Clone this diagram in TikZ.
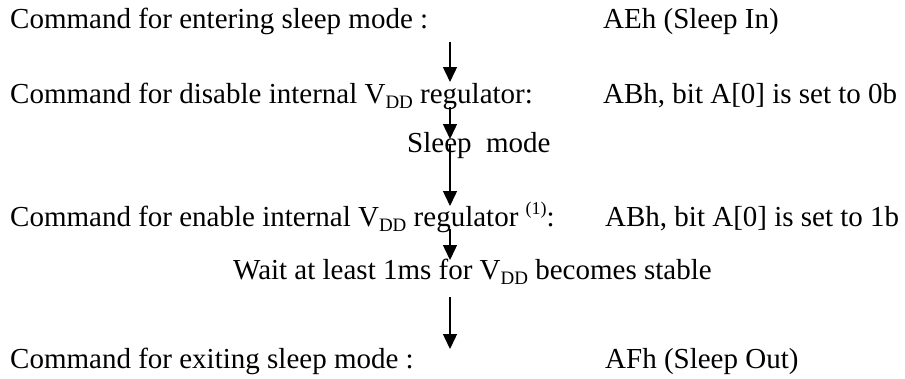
\documentclass[tikz,border=0pt]{standalone}
\usepackage{fontspec}
\setmainfont{Liberation Serif}
\usetikzlibrary{arrows.meta}
\newcommand{\vdd}{V\raisebox{-0.2em}{\fontsize{19}{19}\selectfont DD}}
\newcommand{\supnote}[1]{\raisebox{0.38em}{\fontsize{18}{18}\selectfont #1}}
\begin{document}
\begin{tikzpicture}[x=1pt,y=-1pt,
  txt/.style={anchor=base west,inner sep=0pt,font=\fontsize{29}{35}\selectfont},
  flow/.style={line width=1.4pt,-{Triangle[length=15pt,width=14pt]}}]
\useasboundingbox (0,0) rectangle (905,378);
% left column
\node[txt] (r1) at (10,28) {Command for entering sleep mode :};
\node[txt] (r2) at (10,103) {Command for disable internal \vdd{} regulator:};
\node[txt] (r3) at (407,152) {Sleep~~mode};
\node[txt] (r4) at (10,226) {Command for enable internal \vdd{} regulator \supnote{(1)}:};
\node[txt] (r5) at (233,279) {Wait at least 1ms for \vdd{} becomes stable};
\node[txt] (r6) at (10,368) {Command for exiting sleep mode :};
% right column
\node[txt] (v1) at (603,28) {AEh (Sleep In)};
\node[txt] (v2) at (603,103) {ABh, bit A[0] is set to 0b};
\node[txt] (v4) at (605,226) {ABh, bit A[0] is set to 1b};
\node[txt] (v6) at (605,368) {AFh (Sleep Out)};
% arrow ends
\coordinate (a1s) at (450,42);
\coordinate (a1e) at (450,82);
\coordinate (a2s) at (450,107);
\coordinate (a2e) at (450,139);
\coordinate (a3s) at (450,144);
\coordinate (a3e) at (450,206);
\coordinate (a4s) at (450,229);
\coordinate (a4e) at (450,260);
\coordinate (a5s) at (450,297);
\coordinate (a5e) at (450,349);
\draw[flow] (a1s) -- (a1e);
\draw[flow] (a2s) -- (a2e);
\draw[flow] (a3s) -- (a3e);
\draw[flow] (a4s) -- (a4e);
\draw[flow] (a5s) -- (a5e);
\end{tikzpicture}
\end{document}
